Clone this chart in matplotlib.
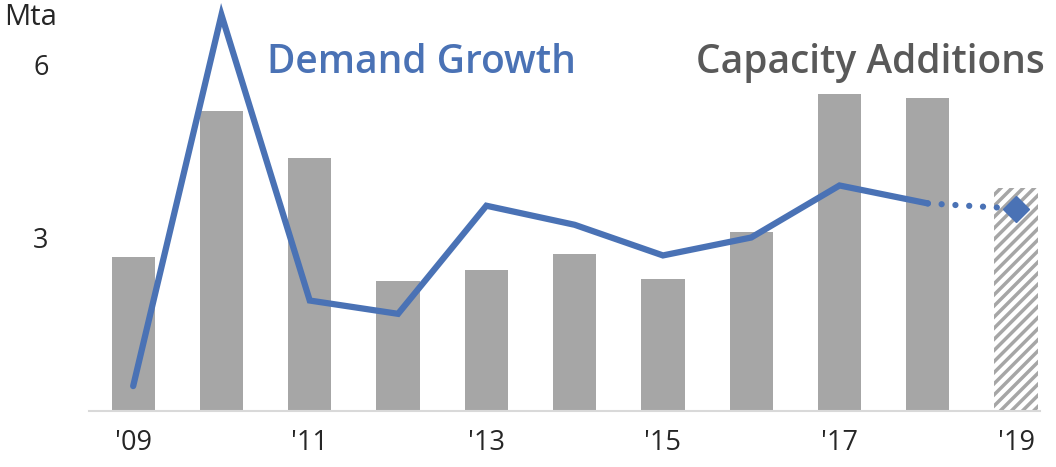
import matplotlib.pyplot as plt
import numpy as np

plt.rcParams['font.family'] = ['Open Sans', 'DejaVu Sans']
plt.rcParams['hatch.linewidth'] = 2.5
plt.rcParams['hatch.color'] = '#a6a6a6'

# data
years = ["'09", "'10", "'11", "'12", "'13", "'14", "'15", "'16", "'17", "'18", "'19"]
capacity = [2.67, 5.18, 4.37, 2.24, 2.43, 2.72, 2.29, 3.10, 5.48, 5.42, 3.86]
demand = [0.43, 6.85, 1.91, 1.68, 3.55, 3.22, 2.69, 3.00, 3.90, 3.59, 3.50]
year_labels = ["'09", "", "'11", "", "'13", "", "'15", "", "'17", "", "'19"]

blue = '#4a72b5'
grey = '#a6a6a6'

fig = plt.figure(figsize=(10.56, 4.67), dpi=100)
ax = fig.add_axes([0.0843, 0.12, 0.9005, 0.879])

x = np.arange(len(years))
# actual bars
ax.bar(x[:-1], capacity[:-1], width=0.49, color=grey, zorder=2)
# forecast bar, hatched
ax.bar(x[-1], capacity[-1], width=0.49, color='white', hatch='///',
       edgecolor=grey, linewidth=0, zorder=2)

# demand line, solid up to '18 then dotted to '19
ax.plot(x[:-1], demand[:-1], color=blue, lw=4.5, solid_joinstyle='miter',
        solid_capstyle='round', zorder=3)
ax.plot(x[-2:], demand[-2:], color=blue, lw=4.5, linestyle=(0, (0.01, 2.2)),
        dash_capstyle='round', zorder=3)
ax.plot(x[-1], demand[-1], marker='D', markersize=13, color=blue, zorder=4)

ax.set_xlim(-0.5, 10.27)
ax.set_ylim(0, 7.1)
ax.set_xticks(x)
ax.set_xticklabels(year_labels, fontsize=19.5, color='#262626')
ax.set_yticks([3, 6])
ax.set_yticklabels(['3', '6'], fontsize=19.5, color='#262626')
ax.tick_params(axis='both', length=0)
ax.tick_params(axis='y', pad=29)
ax.tick_params(axis='x', pad=13)

for s in ['top', 'right', 'left']:
    ax.spines[s].set_visible(False)
ax.spines['bottom'].set_color('#d9d9d9')
ax.spines['bottom'].set_linewidth(1.5)

fig.text(0.004, 0.962, 'Mta', fontsize=21, color='#262626', va='center', ha='left')
fig.text(0.253, 0.866, 'Demand Growth', fontsize=28, color=blue,
         fontweight='semibold', va='center', ha='left')
fig.text(0.659, 0.866, 'Capacity Additions', fontsize=28, color='#595959',
         fontweight='semibold', va='center', ha='left')

fig.savefig('out.png', dpi=100)
